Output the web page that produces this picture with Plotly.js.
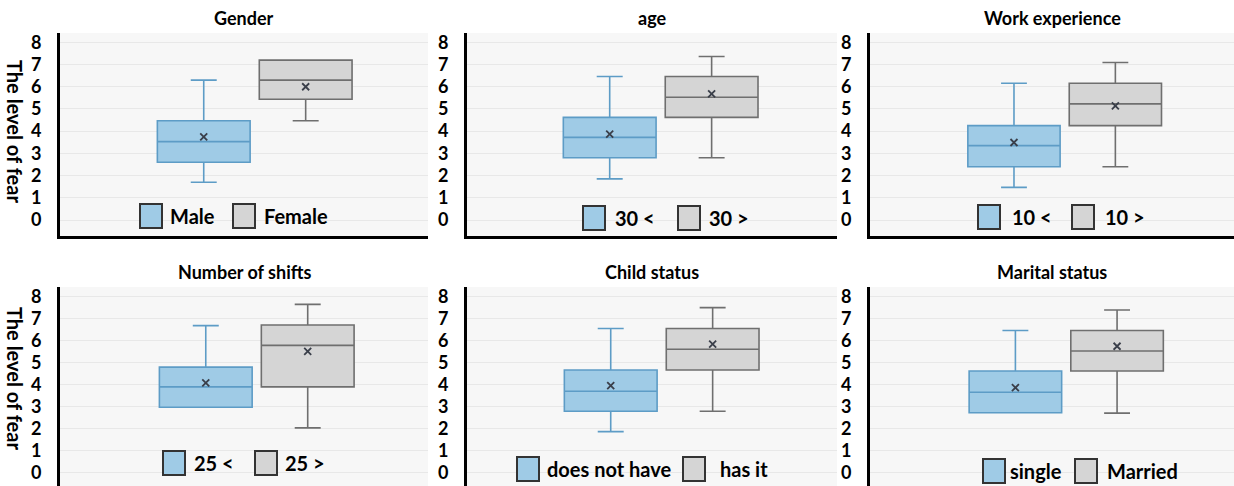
<!DOCTYPE html>
<html>
<head>
<meta charset="utf-8">
<script src="https://cdn.plot.ly/plotly-3.0.1.min.js"></script>
<style>html,body{margin:0;padding:0;background:#fff;}#chart{width:1234px;height:486px;}</style>
</head>
<body>
<div id="chart"></div>
<script>
// ---- data ----
const titles = ["Gender", "age", "Work experience", "Number of shifts", "Child status", "Marital status"];
const groupA = ["Male", "30 <", "10 <", "25 <", "does not have", "single"];
const groupB = ["Female", "30 >", "10 >", "25 >", "has it", "Married"];
const lowA  = [1.70, 1.85, 1.47, 2.97, 1.86, 2.72];
const q1A   = [2.60, 2.80, 2.40, 2.97, 2.79, 2.72];
const medA  = [3.53, 3.72, 3.35, 3.90, 3.70, 3.65];
const q3A   = [4.47, 4.62, 4.25, 4.80, 4.67, 4.62];
const highA = [6.30, 6.46, 6.16, 6.69, 6.56, 6.47];
const meanA = [3.74, 3.87, 3.49, 4.08, 3.95, 3.86];
const lowB  = [4.47, 2.80, 2.40, 2.03, 2.79, 2.70];
const q1B   = [5.44, 4.62, 4.25, 3.90, 4.67, 4.62];
const medB  = [6.30, 5.53, 5.23, 5.79, 5.61, 5.53];
const q3B   = [7.20, 6.46, 6.16, 6.72, 6.56, 6.47];
const highB = [7.20, 7.36, 7.09, 7.66, 7.51, 7.40];
const meanB = [6.00, 5.68, 5.14, 5.52, 5.85, 5.75];
const yTicks = [0, 1, 2, 3, 4, 5, 6, 7, 8];
const yTitle = "The level of fear";

// ---- layout geometry (pixels) ----
const W = 1234, H = 486;
const colL = [60, 467, 870], colR = [428, 837, 1234];
const rowTop = [33, 287], rowBot = [236, 486];
const xRanges = [[-1.41, 2.20], [-1.40, 2.23], [-1.42, 2.17], [-1.43, 2.18], [-1.41, 2.22], [-1.43, 2.15]];
const yRanges = [[-0.72, 8.42], [-0.72, 8.42], [-0.72, 8.42], [-0.62, 8.45], [-0.62, 8.45], [-0.62, 8.45]];
const legOff = [[80, 108, 173, 202], [116, 146, 211, 240], [108, 140, 202, 233],
                [103, 132, 195, 223], [50, 78, 216, 251], [113, 138, 205, 235]];
const legY = [216, 218, 217, 463, 469, 471];

const FONT = "Lato, 'Open Sans', sans-serif";
const blueFill = "#9fcbe6", blueLine = "#5d9cc6";
const grayFill = "#d5d5d5", grayLine = "#6f6f6f";

const px = p => p / W;
const py = p => 1 - p / H;

const traces = [];
const layout = {
  width: W, height: H,
  margin: {l: 0, r: 0, t: 0, b: 0},
  paper_bgcolor: "#ffffff",
  plot_bgcolor: "#f7f7f7",
  showlegend: false,
  font: {family: FONT, color: "#000"},
  annotations: [],
  shapes: []
};

for (let i = 0; i < 6; i++) {
  const col = i % 3, row = Math.floor(i / 3);
  const sfx = i === 0 ? "" : String(i + 1);
  const xa = "x" + sfx, ya = "y" + sfx;
  traces.push({
    type: "box", x: [groupA[i]], q1: [q1A[i]], median: [medA[i]], q3: [q3A[i]],
    lowerfence: [lowA[i]], upperfence: [highA[i]],
    width: 0.91, whiskerwidth: 0.28,
    fillcolor: blueFill, line: {color: blueLine, width: 1.6},
    xaxis: xa, yaxis: ya, name: groupA[i], hoverinfo: "y"
  });
  traces.push({
    type: "box", x: [groupB[i]], q1: [q1B[i]], median: [medB[i]], q3: [q3B[i]],
    lowerfence: [lowB[i]], upperfence: [highB[i]],
    width: 0.91, whiskerwidth: 0.28,
    fillcolor: grayFill, line: {color: grayLine, width: 1.6},
    xaxis: xa, yaxis: ya, name: groupB[i], hoverinfo: "y"
  });
  traces.push({
    type: "scatter", mode: "markers", x: [groupA[i], groupB[i]], y: [meanA[i], meanB[i]],
    marker: {symbol: "x-thin", size: 7, line: {width: 1.8, color: "#3a3f4a"}},
    xaxis: xa, yaxis: ya, hoverinfo: "y", name: "mean"
  });

  layout["xaxis" + sfx] = {
    domain: [px(colL[col]), px(colR[col])],
    anchor: ya, type: "category", range: xRanges[i],
    showticklabels: false, ticks: "", showgrid: false, zeroline: false,
    showline: row === 0, linecolor: "#000", linewidth: 3
  };
  layout["yaxis" + sfx] = {
    domain: [py(rowBot[row]), py(rowTop[row])],
    anchor: xa, range: yRanges[i],
    tickvals: yTicks, ticktext: yTicks.map(String),
    ticks: "", ticklabelstandoff: 12,
    tickfont: {family: FONT, size: 18, weight: 700, color: "#000"},
    showgrid: true, gridcolor: "#e8e8e8", gridwidth: 1, zeroline: false,
    showline: true, linecolor: "#000", linewidth: 3
  };

  // subplot title
  layout.annotations.push({
    text: titles[i], xref: "paper", yref: "paper",
    x: px((colL[col] + colR[col]) / 2), y: py(rowTop[row] - 2),
    xanchor: "center", yanchor: "bottom", showarrow: false,
    font: {family: FONT, size: 18, weight: 700, color: "#000"}
  });

  // legend (swatch + label)
  const off = legOff[i], cy = legY[i], base = colL[col];
  const sw = [[off[0], blueFill, groupA[i], off[1]], [off[2], grayFill, groupB[i], off[3]]];
  sw.forEach(s => {
    layout.shapes.push({
      type: "rect", xref: "paper", yref: "paper",
      x0: px(base + s[0]), x1: px(base + s[0] + 22),
      y0: py(cy + 12), y1: py(cy - 12),
      fillcolor: s[1], line: {color: "#333", width: 2}
    });
    layout.annotations.push({
      text: s[2], xref: "paper", yref: "paper",
      x: px(base + s[3]), y: py(cy), xanchor: "left", yanchor: "middle",
      showarrow: false, font: {family: FONT, size: 20, weight: 700, color: "#000"}
    });
  });

  if (col === 0) {
    layout.annotations.push({
      text: yTitle, xref: "paper", yref: "paper",
      x: px(15), y: py(row ? 378 : 131),
      xanchor: "center", yanchor: "middle", textangle: 90, showarrow: false,
      font: {family: FONT, size: 20, weight: 700, color: "#000"}
    });
  }
}

Plotly.newPlot("chart", traces, layout, {displayModeBar: false, staticPlot: true});
</script>
</body>
</html>
